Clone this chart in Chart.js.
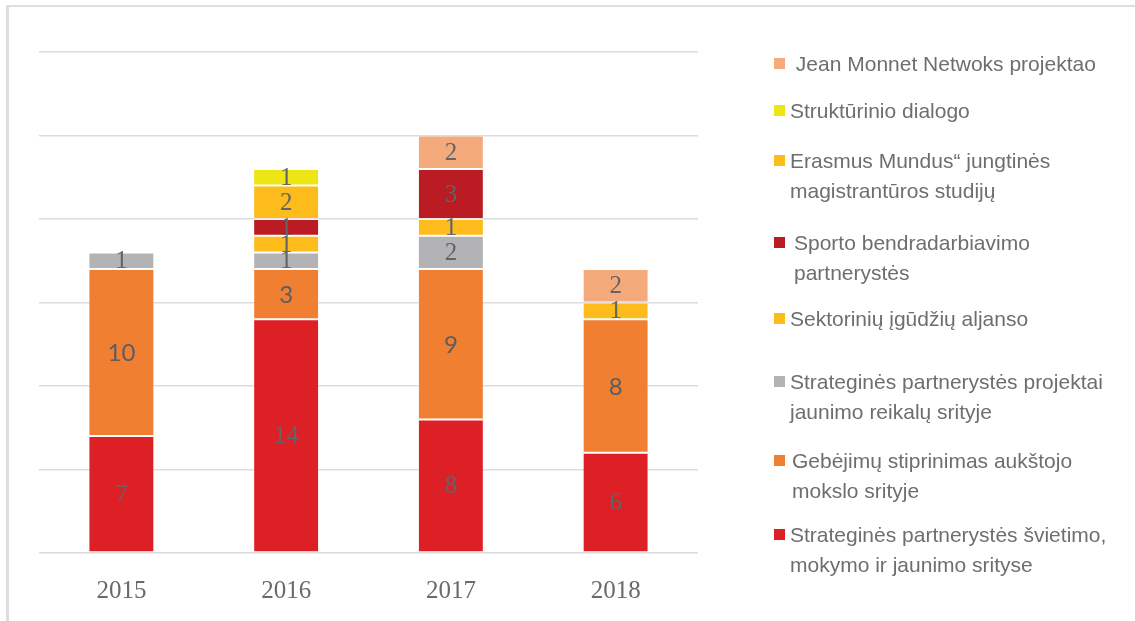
<!DOCTYPE html>
<html>
<head>
<meta charset="utf-8">
<script src="https://cdn.jsdelivr.net/npm/chart.js@4"></script>
<style>
  html, body { margin: 0; padding: 0; background: #fff; }
  #wrap { position: relative; width: 1135px; height: 621px; overflow: hidden; }
  #frame {
    position: absolute; left: 6px; top: 5px; width: 1126px; height: 640px;
    border-top: 2px solid #dedede; border-left: 3px solid #dedede; border-right: 1px solid #ececec;
  }
  #chartBox { position: absolute; left: 0; top: 0; width: 740px; height: 621px; }
  #legend { position: absolute; left: 0; top: 0; width: 1135px; height: 621px; pointer-events: none; }
  .item {
    position: absolute; font-family: "Liberation Sans", Arial, sans-serif; font-size: 21px;
    color: #6e6e70; line-height: 30px; white-space: nowrap;
  }
  .box { position: absolute; width: 11px; height: 11px; left: 774px; }
</style>
</head>
<body>
<div id="wrap">
  <div id="frame"></div>
  <div id="chartBox"><canvas id="chart"></canvas></div>
  <div id="legend"></div>
</div>
<script>
const years = ["2015", "2016", "2017", "2018"];

// bottom to top in the stack
const seriesNames = [
  "Strateginės partnerystės švietimo,\nmokymo ir jaunimo srityse",
  "Gebėjimų stiprinimas aukštojo\nmokslo srityje",
  "Strateginės partnerystės projektai\njaunimo reikalų srityje",
  "Sektorinių įgūdžių aljanso",
  "Sporto bendradarbiavimo\npartnerystės",
  "Erasmus Mundus“ jungtinės\nmagistrantūros studijų",
  "Struktūrinio dialogo",
  " Jean Monnet Netwoks projektao"
];
const svietimas = [7, 14, 8, 6];
const gebejimai = [10, 3, 9, 8];
const jaunimas = [1, 1, 2, null];
const sektoriniai = [null, 1, 1, 1];
const sportas = [null, 1, 3, null];
const erasmusMundus = [null, 2, null, null];
const strukturinis = [null, 1, null, null];
const jeanMonnet = [null, null, 2, 2];

const seriesValues = [svietimas, gebejimai, jaunimas, sektoriniai, sportas, erasmusMundus, strukturinis, jeanMonnet];
const colors = ["#dd1f26", "#f07f32", "#b3b3b5", "#fdbb1c", "#bb1c23", "#fdbb1c", "#eee614", "#f5aa7c"];

// legend layout (top of each marker, text left edge), top item first
const legendMarkerTop = [58, 105, 155, 237, 313, 376, 455, 529];
const legendTextX = [790, 790, 790, 794, 790, 790, 792, 790];

const labelPlugin = {
  id: "segLabels",
  afterDatasetsDraw(chart) {
    const ctx = chart.ctx;
    ctx.save();
    ctx.textAlign = "center";
    ctx.textBaseline = "middle";
    chart.data.datasets.forEach((ds, i) => {
      const meta = chart.getDatasetMeta(i);
      meta.data.forEach((bar, j) => {
        const v = ds.data[j];
        if (v == null) return;
        if (i === 1) {
          ctx.font = "24px Lato, 'Liberation Sans', sans-serif";
          ctx.fillStyle = "#5d5d60";
        } else {
          ctx.font = "25px 'Liberation Serif', 'Times New Roman', serif";
          ctx.fillStyle = "#646468";
        }
        ctx.fillText(String(v), bar.x, (bar.y + bar.base) / 2 + 1);
      });
    });
    ctx.restore();
  }
};

new Chart(document.getElementById("chart"), {
  type: "bar",
  data: {
    labels: years,
    datasets: seriesValues.map((vals, i) => ({
      label: seriesNames[i],
      data: vals,
      backgroundColor: colors[i],
      borderColor: "rgba(255,255,255,0.3)",
      borderWidth: 1,
      borderSkipped: false,
      barPercentage: 0.4,
      categoryPercentage: 1
    }))
  },
  options: {
    responsive: true,
    maintainAspectRatio: false,
    animation: false,
    layout: { padding: { left: 39, right: 42, top: 52, bottom: 0 } },
    plugins: { legend: { display: false }, tooltip: { enabled: false } },
    scales: {
      x: {
        stacked: true,
        grid: { display: false },
        border: { display: false },
        ticks: {
          padding: 15,
          color: "#6a6a6e",
          font: { family: "'Liberation Serif', 'Times New Roman', serif", size: 25 }
        },
        afterFit(scale) { scale.height = 68; }
      },
      y: {
        stacked: true,
        min: 0,
        max: 30,
        ticks: { display: false, stepSize: 5 },
        grid: { color: "#dcdcdc", lineWidth: 1.5, drawTicks: false },
        border: { display: false },
        afterFit(scale) { scale.width = 0; }
      }
    }
  },
  plugins: [labelPlugin]
});

// legend, top item is the last series
const legend = document.getElementById("legend");
for (let k = 0; k < seriesNames.length; k++) {
  const i = seriesNames.length - 1 - k;
  const top = legendMarkerTop[k];
  const box = document.createElement("div");
  box.className = "box";
  box.style.top = top + "px";
  box.style.background = colors[i];
  legend.appendChild(box);
  const txt = document.createElement("div");
  txt.className = "item";
  txt.style.left = legendTextX[k] + "px";
  txt.style.top = (top + 5 - 15 + 1) + "px";
  txt.innerHTML = seriesNames[i].replace(/^ /, "&nbsp;").split("\n").join("<br>");
  legend.appendChild(txt);
}
</script>
</body>
</html>
